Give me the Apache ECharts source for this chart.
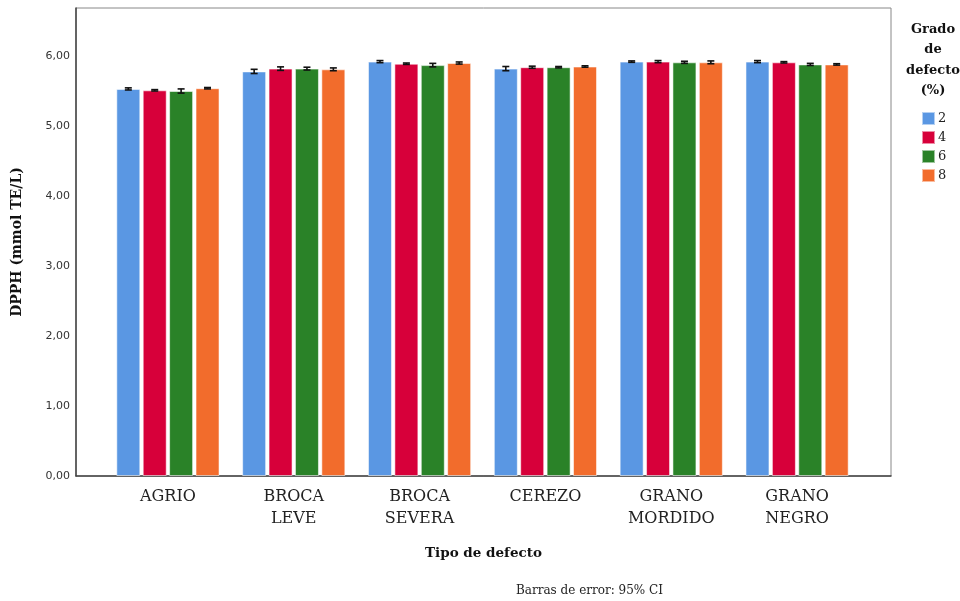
<!DOCTYPE html>
<html>
<head>
<meta charset="utf-8">
<script src="https://cdn.jsdelivr.net/npm/echarts@6/dist/echarts.min.js"></script>
<style>
  html, body { margin: 0; padding: 0; background: #fff; }
  #chart { width: 960px; height: 601px; }
</style>
</head>
<body>
<div id="chart"></div>
<script>
// Defect types (x categories) and defect grades (series)
const categories = ['AGRIO', 'BROCA\nLEVE', 'BROCA\nSEVERA', 'CEREZO', 'GRANO\nMORDIDO', 'GRANO\nNEGRO'];
const grades = ['2', '4', '6', '8'];

// Mean DPPH (mmol TE/L) per grade, one value per defect type
const grade2 = [5.53, 5.78, 5.92, 5.82, 5.92, 5.92];
const grade4 = [5.51, 5.82, 5.89, 5.84, 5.92, 5.91];
const grade6 = [5.50, 5.82, 5.87, 5.84, 5.91, 5.88];
const grade8 = [5.54, 5.81, 5.90, 5.85, 5.91, 5.88];

// Half-width of the 95% confidence interval
const ci2 = [0.015, 0.030, 0.015, 0.030, 0.010, 0.015];
const ci4 = [0.010, 0.025, 0.010, 0.015, 0.015, 0.010];
const ci6 = [0.030, 0.020, 0.025, 0.010, 0.015, 0.015];
const ci8 = [0.010, 0.020, 0.015, 0.010, 0.020, 0.010];

const yTicks = [0, 1, 2, 3, 4, 5, 6];

const means = [grade2, grade4, grade6, grade8];
const cis = [ci2, ci4, ci6, ci8];
const colors = ['#5A97E3', '#D7003A', '#2A8228', '#F26C2C'];

const BAR_W = 24;
const BAR_GAP = 2.4;
const Y_MAX = 6.686;

const serif = '"DejaVu Serif", "Liberation Serif", serif';

const chart = echarts.init(document.getElementById('chart'), null, { renderer: 'canvas' });

const barSeries = means.map((vals, i) => ({
  name: grades[i],
  type: 'bar',
  xAxisIndex: 1,
  yAxisIndex: 1,
  data: vals,
  barWidth: BAR_W,
  barGap: (BAR_GAP / BAR_W * 100) + '%',
  itemStyle: { color: colors[i], borderColor: 'rgba(255,255,255,0.55)', borderWidth: 1 },
  emphasis: { disabled: true },
  z: 2
}));

// Error bars: one custom series per grade, offset like the bars
const errSeries = means.map((vals, i) => ({
  type: 'custom',
  xAxisIndex: 1,
  yAxisIndex: 1,
  silent: true,
  z: 5,
  data: vals.map((v, k) => [k, v - cis[i][k], v + cis[i][k]]),
  renderItem: function (params, api) {
    const k = api.value(0);
    const lo = api.coord([k, api.value(1)]);
    const hi = api.coord([k, api.value(2)]);
    const off = (i - 1.5) * (BAR_W + BAR_GAP);
    const x = lo[0] + off;
    const cap = 3.5;
    const st = { stroke: '#111', lineWidth: 1.6 };
    return {
      type: 'group',
      children: [
        { type: 'line', shape: { x1: x, y1: lo[1], x2: x, y2: hi[1] }, style: st },
        { type: 'line', shape: { x1: x - cap, y1: lo[1], x2: x + cap, y2: lo[1] }, style: st },
        { type: 'line', shape: { x1: x - cap, y1: hi[1], x2: x + cap, y2: hi[1] }, style: st }
      ]
    };
  }
}));

const option = {
  backgroundColor: '#fff',
  animation: false,
  title: {
    text: 'Grado\nde\ndefecto\n(%)',
    left: 928,
    top: 14,
    textAlign: 'center',
    textStyle: { fontFamily: serif, fontWeight: 'bold', fontSize: 13, lineHeight: 20.5, color: '#111' }
  },
  legend: {
    data: grades,
    orient: 'vertical',
    left: 916,
    top: 106,
    itemWidth: 13,
    itemHeight: 13,
    itemGap: 4,
    icon: 'rect',
    selectedMode: false,
    textStyle: { fontFamily: serif, fontSize: 13, color: '#222', padding: [0, 0, 0, -2] }
  },
  grid: [
    { left: 76, top: 8, width: 815, height: 468, show: true, borderColor: '#888', borderWidth: 1, backgroundColor: 'transparent' },
    { left: 105, top: 8, width: 755, height: 468 }
  ],
  xAxis: [
    {
      gridIndex: 0, type: 'value', min: 0, max: 1,
      axisLine: { show: true, lineStyle: { color: '#444', width: 1.5 } },
      axisTick: { show: false }, axisLabel: { show: false }, splitLine: { show: false },
      name: 'Tipo de defecto', nameLocation: 'middle', nameGap: 70,
      nameTextStyle: { fontFamily: serif, fontWeight: 'bold', fontSize: 13.5, color: '#111' }
    },
    {
      gridIndex: 1, type: 'category', data: categories,
      axisLine: { show: false }, axisTick: { show: false },
      axisLabel: { fontFamily: serif, fontSize: 16, lineHeight: 22, color: '#222', margin: 10, interval: 0 }
    }
  ],
  yAxis: [
    {
      gridIndex: 0, type: 'value', min: 0, max: Y_MAX, interval: 1,
      axisLine: { show: true, lineStyle: { color: '#444', width: 1.5 } },
      axisTick: { show: false }, splitLine: { show: false },
      axisLabel: {
        showMaxLabel: false, margin: 6, color: '#333',
        fontFamily: '"DejaVu Sans", sans-serif', fontSize: 11,
        formatter: v => yTicks.includes(v) ? v.toFixed(2).replace('.', ',') : ''
      },
      name: 'DPPH (mmol TE/L)', nameLocation: 'middle', nameGap: 52, nameRotate: 90,
      nameTextStyle: { fontFamily: serif, fontWeight: 'bold', fontSize: 14, color: '#111' }
    },
    { gridIndex: 1, type: 'value', min: 0, max: Y_MAX, show: false }
  ],
  graphic: [
    {
      type: 'text', left: 516, top: 585,
      style: { text: 'Barras de error: 95% CI', font: '12px ' + serif, fill: '#222' }
    }
  ],
  series: [...barSeries, ...errSeries]
};

chart.setOption(option);
</script>
</body>
</html>
